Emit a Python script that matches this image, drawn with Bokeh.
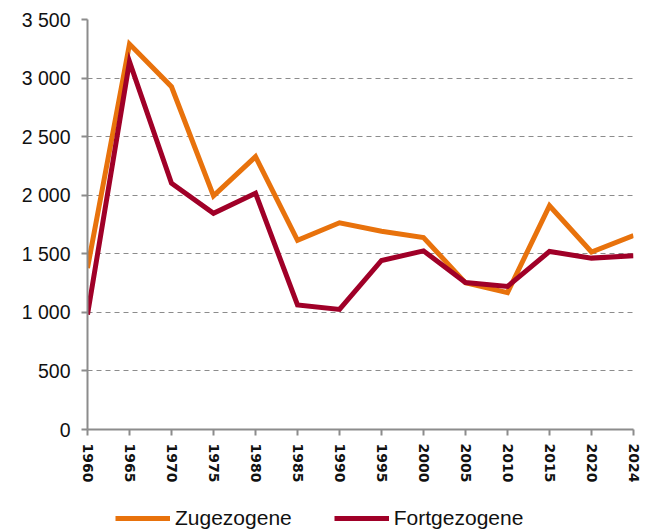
import math
from bokeh.plotting import figure
from bokeh.layouts import column
from bokeh.models import Range1d, FixedTicker, Legend, LegendItem
from bokeh.embed import file_html
from bokeh.resources import INLINE

years = ["1960", "1965", "1970", "1975", "1980", "1985", "1990", "1995",
         "2000", "2005", "2010", "2015", "2020", "2024"]
zugezogene = [1378, 3290, 2926, 1995, 2329, 1615, 1765, 1693, 1639, 1252,
              1168, 1910, 1515, 1655]
fortgezogene = [980, 3140, 2102, 1845, 2017, 1063, 1025, 1443, 1525, 1255,
                1221, 1520, 1463, 1483]
y_ticks = [0, 500, 1000, 1500, 2000, 2500, 3000, 3500]
series_names = ["Zugezogene", "Fortgezogene"]
series_colors = ["#E8720C", "#A00028"]

xs = list(range(len(years)))

p = figure(width=645, height=485, output_backend="svg", toolbar_location=None,
           x_range=Range1d(0, len(years) - 1), y_range=Range1d(0, 3500),
           min_border_left=87, min_border_right=12, min_border_top=19,
           min_border_bottom=55)
p.outline_line_color = None
p.background_fill_color = "white"

for vals, col in zip([zugezogene, fortgezogene], series_colors):
    p.line(xs, vals, line_color=col, line_width=5, line_join="miter")

# axes
p.xaxis.ticker = FixedTicker(ticks=xs)
p.xaxis.major_label_overrides = {i: y for i, y in zip(xs, years)}
p.xaxis.major_label_orientation = -math.pi / 2
p.xaxis.major_label_text_font = "DejaVu Sans"
p.xaxis.major_label_text_font_style = "bold"
p.xaxis.major_label_text_font_size = "14px"
p.xaxis.major_label_text_color = "#111111"
p.xaxis.major_label_standoff = 8

p.yaxis.ticker = FixedTicker(ticks=y_ticks)
p.yaxis.major_label_overrides = {t: f"{t:,}".replace(",", " ") for t in y_ticks}
p.yaxis.major_label_text_font = "Liberation Sans"
p.yaxis.major_label_text_font_size = "19.5px"
p.yaxis.major_label_text_color = "#111111"
p.yaxis.major_label_standoff = 11

for ax in (p.xaxis, p.yaxis):
    ax.axis_line_color = "#8c8c8c"
    ax.axis_line_width = 2
    ax.major_tick_line_color = "#8c8c8c"
    ax.major_tick_line_width = 2
    ax.major_tick_out = 6
    ax.major_tick_in = 0
    ax.minor_tick_line_color = None

p.xgrid.grid_line_color = None
p.ygrid.ticker = FixedTicker(ticks=y_ticks)
p.ygrid.grid_line_color = "#8c8c8c"
p.ygrid.grid_line_dash = "5 4"
p.ygrid.grid_line_width = 1.2

# legend strip below the chart (its frame is aligned with the chart frame)
lg = figure(width=645, height=45, output_backend="svg", toolbar_location=None,
            x_range=Range1d(0, 1), y_range=Range1d(0, 1),
            x_axis_type=None, y_axis_type=None,
            min_border_left=0, min_border_right=0, min_border_top=0,
            min_border_bottom=0)
lg.outline_line_color = None
lg.xgrid.grid_line_color = None
lg.ygrid.grid_line_color = None
items = []
for name, col in zip(series_names, series_colors):
    # off-screen proxy line, used only for the legend swatch
    r = lg.line([-10, -9], [-10, -9], line_color=col, line_width=5)
    items.append(LegendItem(label=name, renderers=[r]))

legend = Legend(items=items, orientation="horizontal", location=(28, 0))
legend.label_text_font = "Liberation Sans"
legend.label_text_font_size = "21px"
legend.label_text_color = "#111111"
legend.glyph_width = 55
legend.glyph_height = 24
legend.label_height = 24
legend.label_standoff = 5
legend.spacing = 42
legend.padding = 0
legend.margin = 0
legend.border_line_color = None
legend.background_fill_alpha = 0
lg.add_layout(legend, "center")

layout = column(p, lg, spacing=0)
open("out.html", "w").write(file_html(layout, INLINE))
